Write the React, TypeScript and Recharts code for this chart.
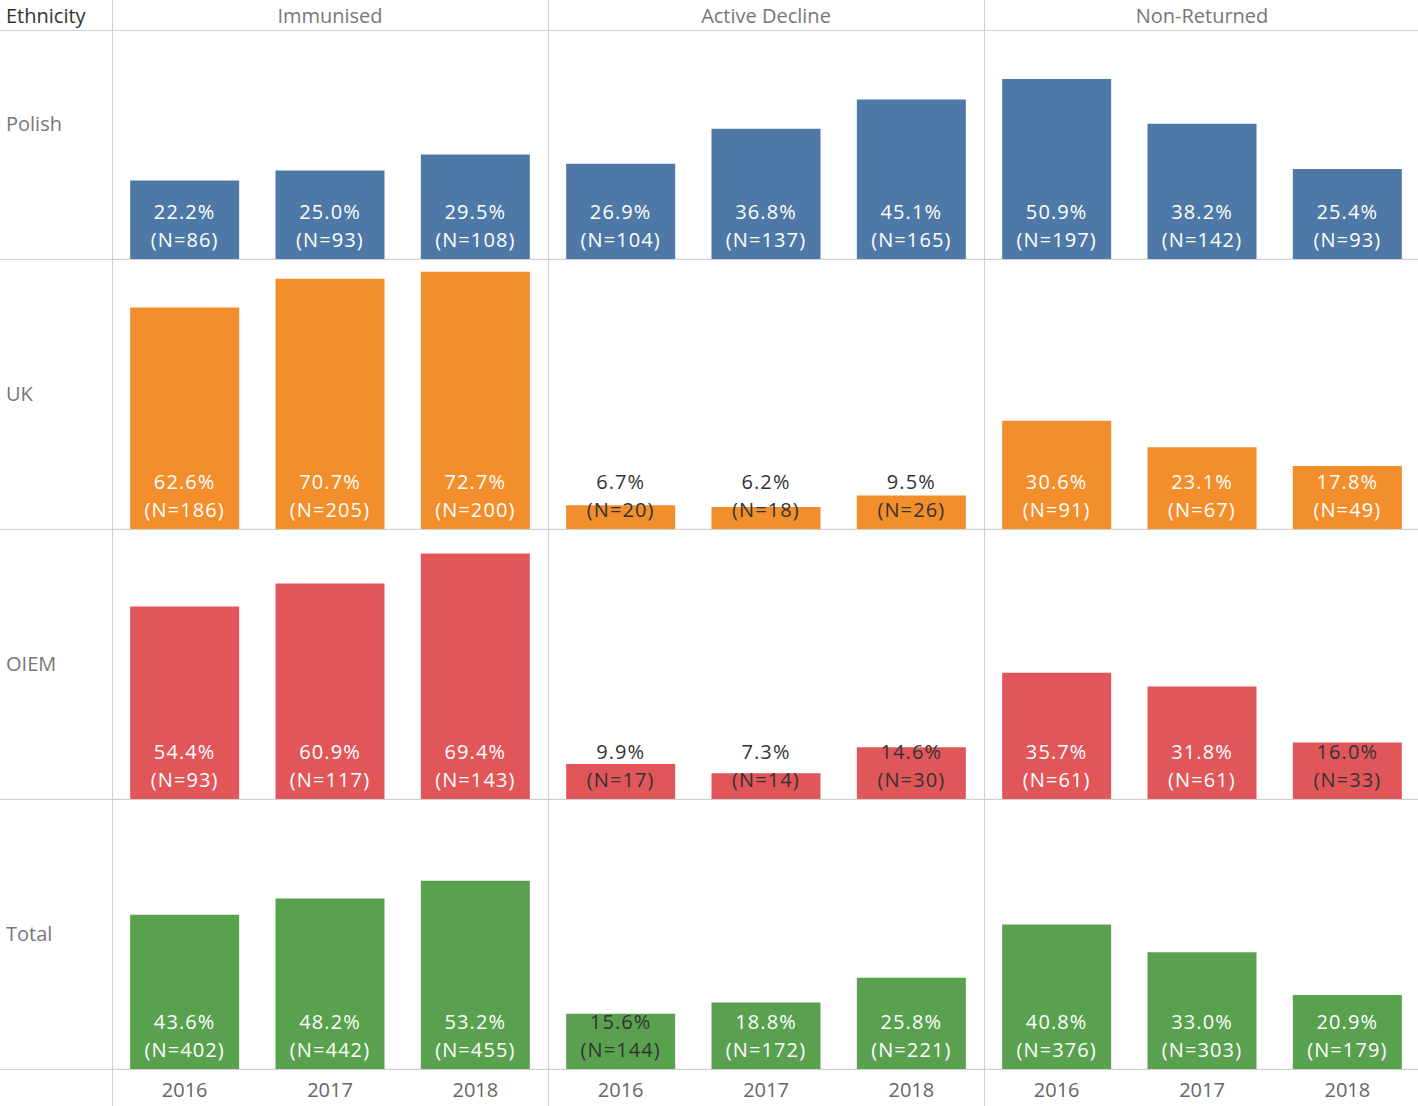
import { Bar, BarChart, CartesianGrid, LabelList, XAxis, YAxis } from "recharts";

const years = ["2016", "2017", "2018"];
const statuses = ["Immunised", "Active Decline", "Non-Returned"];
const ethnicities = ["Polish", "UK", "OIEM", "Total"];

// percentages per ethnicity, per status, per year
const polishPct = [[22.2, 25.0, 29.5], [26.9, 36.8, 45.1], [50.9, 38.2, 25.4]];
const polishN = [[86, 93, 108], [104, 137, 165], [197, 142, 93]];
const ukPct = [[62.6, 70.7, 72.7], [6.7, 6.2, 9.5], [30.6, 23.1, 17.8]];
const ukN = [[186, 205, 200], [20, 18, 26], [91, 67, 49]];
const oiemPct = [[54.4, 60.9, 69.4], [9.9, 7.3, 14.6], [35.7, 31.8, 16.0]];
const oiemN = [[93, 117, 143], [17, 14, 30], [61, 61, 33]];
const totalPct = [[43.6, 48.2, 53.2], [15.6, 18.8, 25.8], [40.8, 33.0, 20.9]];
const totalN = [[402, 442, 455], [144, 172, 221], [376, 303, 179]];

const pctByRow = [polishPct, ukPct, oiemPct, totalPct];
const nByRow = [polishN, ukN, oiemN, totalN];
const colors = ["#4e79a7", "#f28e2b", "#e15759", "#59a14f"];

const FONT = "'Open Sans', sans-serif";
const ROW_H = 270;
const AXIS_H = 36;
const COL_W = 436;
const LEFT = 112;
const rowTops = [-11, 259, 529, 799];
const BORDER = "#d0d0d0";

type Row = { year: string; pct: number; n: number };

function Panel({ data, color, bottom }: { data: Row[]; color: string; bottom: boolean }) {
  const renderLabel = (p: any) => {
    const x = Number(p.x);
    const y = Number(p.y);
    const w = Number(p.width);
    const h = Number(p.height);
    const d = data[p.index];
    const base = y + h;
    const fill = h < 60 ? "#333333" : "#ffffff";
    return (
      <g>
        <text x={x + w / 2} y={base - 40} textAnchor="middle" fill={fill} fontSize={20} letterSpacing={1.1} fontFamily={FONT}>
          {d.pct.toFixed(1) + "%"}
        </text>
        <text x={x + w / 2} y={base - 12} textAnchor="middle" fill={fill} fontSize={20} letterSpacing={1.1} fontFamily={FONT}>
          {"(N=" + d.n + ")"}
        </text>
      </g>
    );
  };

  return (
    <BarChart
      width={COL_W}
      height={ROW_H + (bottom ? AXIS_H : 0)}
      data={data}
      margin={{ top: 0, right: 0, bottom: 0, left: 0 }}
      barCategoryGap="12.5%"
    >
      <CartesianGrid stroke="#ececec" vertical={false} />
      <XAxis
        dataKey="year"
        hide={!bottom}
        height={AXIS_H}
        axisLine={false}
        tickLine={false}
        tickSize={0}
        tickMargin={14}
        tick={{ fill: "#666", fontSize: 20, fontFamily: FONT }}
      />
      <YAxis width={0} domain={[0, 76.3]} ticks={[0, 20, 40, 60]} tick={false} axisLine={false} tickLine={false} />
      <Bar dataKey="pct" fill={color} isAnimationActive={false}>
        <LabelList dataKey="pct" content={renderLabel} />
      </Bar>
    </BarChart>
  );
}

export default function App() {
  return (
    <div
      style={{
        position: "absolute",
        left: 0,
        top: 0,
        width: 1418,
        height: 1106,
        overflow: "hidden",
        background: "#fff",
        fontFamily: FONT,
      }}
    >
      {ethnicities.map((eth, r) =>
        statuses.map((st, c) => {
          const data: Row[] = years.map((yr, i) => ({
            year: yr,
            pct: pctByRow[r][c][i],
            n: nByRow[r][c][i],
          }));
          return (
            <div key={eth + st} style={{ position: "absolute", left: LEFT + c * COL_W, top: rowTops[r] }}>
              <Panel data={data} color={colors[r]} bottom={r === 3} />
            </div>
          );
        })
      )}

      {/* header band */}
      <div style={{ position: "absolute", left: 0, top: 0, width: 1418, height: 30, background: "#fff" }} />
      <div style={{ position: "absolute", left: 6, top: 2, fontSize: 20, color: "#333" }}>Ethnicity</div>
      {statuses.map((st, c) => (
        <div
          key={st}
          style={{
            position: "absolute",
            left: LEFT + c * COL_W,
            width: COL_W,
            top: 2,
            textAlign: "center",
            fontSize: 20,
            color: "#777",
          }}
        >
          {st}
        </div>
      ))}

      {/* row labels */}
      {ethnicities.map((eth, r) => (
        <div
          key={eth}
          style={{ position: "absolute", left: 6, top: rowTops[r] + ROW_H / 2 - 14, fontSize: 20, color: "#777" }}
        >
          {eth}
        </div>
      ))}

      {/* borders */}
      {[30, 259, 529, 799, 1069].map((y) => (
        <div key={"h" + y} style={{ position: "absolute", left: 0, top: y, width: 1418, height: 1, background: BORDER }} />
      ))}
      {[LEFT, LEFT + COL_W, LEFT + 2 * COL_W].map((x) => (
        <div key={"v" + x} style={{ position: "absolute", left: x, top: 0, width: 1, height: 1106, background: BORDER }} />
      ))}
    </div>
  );
}
